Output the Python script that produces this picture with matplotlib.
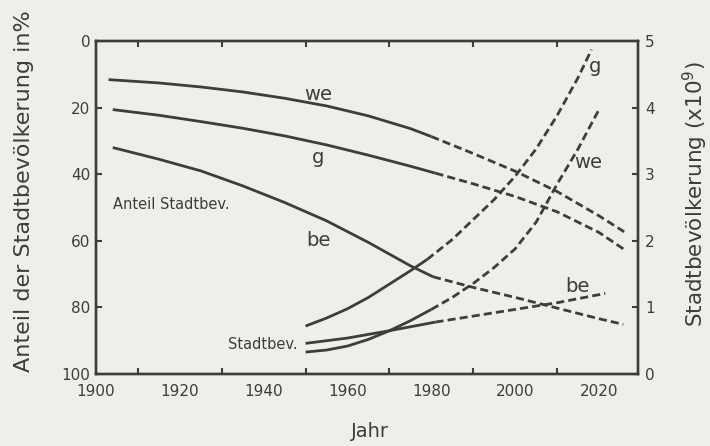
import matplotlib.pyplot as plt

# Anteil Stadtbevoelkerung (%), linke Achse (invertiert)
we_pct_jahr = [1903, 1915, 1925, 1935, 1945, 1955, 1965, 1975, 1980]
we_pct = [11.6, 12.6, 13.8, 15.3, 17.2, 19.5, 22.5, 26.3, 28.7]
we_pct_proj_jahr = [1980, 1990, 2000, 2010, 2020, 2026]
we_pct_proj = [28.7, 33.8, 39.1, 45.2, 52.5, 57.3]

g_pct_jahr = [1904, 1915, 1925, 1935, 1945, 1955, 1965, 1975, 1981]
g_pct = [20.6, 22.3, 24.2, 26.2, 28.5, 31.2, 34.3, 37.6, 39.7]
g_pct_proj_jahr = [1981, 1990, 2000, 2010, 2020, 2026]
g_pct_proj = [39.7, 42.9, 46.7, 51.3, 57.5, 62.6]

be_pct_jahr = [1904, 1915, 1925, 1935, 1945, 1955, 1965, 1975, 1980.4]
be_pct = [32.0, 35.5, 39.0, 43.5, 48.5, 54.0, 60.5, 67.5, 70.8]
be_pct_proj_jahr = [1980.4, 1990, 2000, 2010, 2020, 2025.8]
be_pct_proj = [70.8, 74.0, 77.0, 80.2, 83.4, 85.1]

# Stadtbevoelkerung (x10^9), rechte Achse
g_bev_jahr = [1950, 1955, 1960, 1965, 1970, 1975, 1979]
g_bev = [0.72, 0.84, 0.98, 1.15, 1.35, 1.55, 1.72]
g_bev_proj_jahr = [1979, 1985, 1990, 1995, 2000, 2005, 2010, 2015, 2018.2]
g_bev_proj = [1.72, 2.02, 2.32, 2.62, 2.97, 3.38, 3.88, 4.45, 4.87]

we_bev_jahr = [1950, 1955, 1960, 1965, 1970, 1975, 1980]
we_bev = [0.33, 0.36, 0.42, 0.52, 0.65, 0.80, 0.97]
we_bev_proj_jahr = [1980, 1985, 1990, 1995, 2000, 2005, 2010, 2015, 2019.9]
we_bev_proj = [0.97, 1.15, 1.36, 1.60, 1.88, 2.28, 2.85, 3.38, 3.96]

be_bev_jahr = [1950, 1960, 1970, 1981]
be_bev = [0.46, 0.54, 0.65, 0.78]
be_bev_proj_jahr = [1981, 1990, 2000, 2010, 2021.5]
be_bev_proj = [0.78, 0.87, 0.97, 1.07, 1.21]

papier = "#eeeeeb"
tinte = "#3d3d3d"
lw = 2.0
strich = (2.9, 1.5)

fig = plt.figure(figsize=(7.1, 4.46), dpi=100, facecolor=papier)
ax = fig.add_axes([0.1352, 0.1614, 0.7634, 0.7467])
ax.set_facecolor(papier)
ax2 = ax.twinx()

for jahr, wert in [(we_pct_jahr, we_pct), (g_pct_jahr, g_pct), (be_pct_jahr, be_pct)]:
    ax.plot(jahr, wert, color=tinte, lw=lw, solid_capstyle="butt", solid_joinstyle="round")
for jahr, wert in [(we_pct_proj_jahr, we_pct_proj), (g_pct_proj_jahr, g_pct_proj),
                   (be_pct_proj_jahr, be_pct_proj)]:
    ax.plot(jahr, wert, color=tinte, lw=lw, dashes=strich, dash_capstyle="butt")

for jahr, wert in [(g_bev_jahr, g_bev), (we_bev_jahr, we_bev), (be_bev_jahr, be_bev)]:
    ax2.plot(jahr, wert, color=tinte, lw=lw, solid_capstyle="butt", solid_joinstyle="round")
for jahr, wert in [(g_bev_proj_jahr, g_bev_proj), (we_bev_proj_jahr, we_bev_proj),
                   (be_bev_proj_jahr, be_bev_proj)]:
    ax2.plot(jahr, wert, color=tinte, lw=lw, dashes=strich, dash_capstyle="butt")

ax.set_xlim(1900, 2029.3)
ax.set_ylim(100, 0)
ax2.set_ylim(0, 5)

ax.set_xticks(range(1900, 2030, 10), minor=True)
ax.set_xticks(range(1900, 2021, 20))
ax.set_yticks(range(0, 101, 20))
ax2.set_yticks(range(0, 6))

for a in (ax, ax2):
    for s in a.spines.values():
        s.set_color(tinte)
        s.set_linewidth(1.7)
    a.tick_params(direction="in", length=4.5, width=1.5, color=tinte,
                  labelcolor=tinte, labelsize=11)
ax.tick_params(which="minor", direction="in", length=4.5, width=1.5, color=tinte,
               top=True, bottom=True)
ax.tick_params(which="major", top=True, bottom=True)
ax.tick_params(axis="x", which="major", length=0, pad=7)
ax.tick_params(axis="y", pad=4)
ax2.tick_params(axis="y", pad=5)

ax.set_xlabel("Jahr", fontsize=14, color=tinte)
ax.xaxis.set_label_coords(0.506, -0.144)
ax.set_ylabel("Anteil der Stadtbevölkerung in%", fontsize=16, color=tinte)
ax.yaxis.set_label_coords(-0.114, 0.55)
ax2.set_ylabel("Stadtbevölkerung (x10$^9$)", fontsize=15.5, color=tinte)
ax2.yaxis.set_label_coords(1.079, 0.54)

ax.text(1953, 16.2, "we", fontsize=14, color=tinte, ha="center", va="center")
ax.text(1953, 35.0, "g", fontsize=14, color=tinte, ha="center", va="center")
ax.text(1953, 59.8, "be", fontsize=14, color=tinte, ha="center", va="center")
ax.text(1904, 49.2, "Anteil Stadtbev.", fontsize=10.5, color=tinte, ha="left", va="center")
ax2.text(1948, 0.44, "Stadtbev.", fontsize=10.5, color=tinte, ha="right", va="center")
ax2.text(2019, 4.61, "g", fontsize=14, color=tinte, ha="center", va="center")
ax2.text(2017.4, 3.17, "we", fontsize=14, color=tinte, ha="center", va="center")
ax2.text(2014.8, 1.31, "be", fontsize=14, color=tinte, ha="center", va="center")

fig.savefig("out.png", dpi=100, facecolor=papier)
